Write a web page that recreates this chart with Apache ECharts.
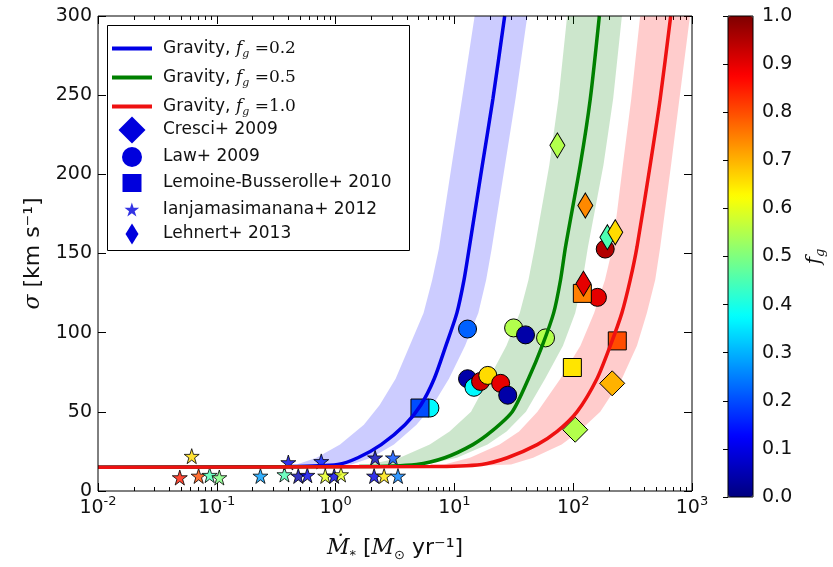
<!DOCTYPE html>
<html><head><meta charset="utf-8">
<script src="https://cdn.jsdelivr.net/npm/echarts@6/dist/echarts.min.js"></script>
<style>html,body{margin:0;padding:0;background:#fff}#c{width:833px;height:567px}</style>
</head><body><div id="c"></div>
<script>
// ---------------- data ----------------
const xTickValues = [0.01, 0.1, 1, 10, 100, 1000];
const xTickExponents = ['-2', '-1', '0', '1', '2', '3'];
const yTickValues = [0, 50, 100, 150, 200, 250, 300];
const cbTickValues = [0, 0.1, 0.2, 0.3, 0.4, 0.5, 0.6, 0.7, 0.8, 0.9, 1.0];

const gravityNames = ['Gravity, fg=0.2', 'Gravity, fg=0.5', 'Gravity, fg=1.0'];
const gravityFg = ['0.2', '0.5', '1.0'];

// model curves (Mdot, sigma)
const blueLineMdot  = [0.01, 0.4, 1.045, 1.54, 2.42, 3.84, 5.22, 6.76, 8.47, 10.5, 12.05, 13.3, 17.2, 21.1, 26.5];
const blueSigma     = [15, 15.5, 16.8, 21, 29.3, 41.8, 54.3, 70.9, 91.7, 112.5, 133.3, 153, 206, 247.7, 300];
const blueBandLoM   = [0.01, 0.18, 0.47, 0.69, 1.09, 1.73, 2.35, 3.2, 4.2, 5.5, 6.5, 7.4, 9.5, 11.6, 14.8];
const blueBandHiM   = [0.01, 0.52, 1.36, 2.0, 3.1, 4.8, 6.6, 9.0, 12.3, 15.9, 18.5, 20.6, 26.7, 32.7, 41.1];

const greenLineMdot = [0.01, 1.58, 4.8, 8.3, 14.3, 20.5, 30.7, 42, 54.8, 68.5, 78.2, 86.1, 114.8, 139.3, 166];
const greenSigma    = [15, 15.4, 16.8, 21, 29.3, 37.6, 50.1, 70.9, 91.7, 112.5, 133.3, 154, 206, 247.7, 300];
const greenBandLoM  = [0.01, 0.71, 1.94, 3.46, 6.2, 9.1, 13.8, 19.5, 27.4, 35.5, 42, 47.5, 63, 75.2, 88.9];
const greenBandHiM  = [0.01, 2.05, 5.8, 10.5, 19, 27.5, 40, 58, 82, 104, 120, 133, 180, 217, 257];

const redLineMdot   = [0.01, 6.3, 17, 27.9, 49.8, 73.3, 108, 158.5, 205, 257, 302, 344, 445, 540, 662];
const redSigma      = [15, 15.4, 16.8, 21, 29.3, 37.6, 50.1, 70.9, 91.7, 112.5, 133.3, 154, 206, 247.7, 300];
const redBandLoM    = [0.01, 2.9, 8.2, 13.5, 24, 35, 50, 78, 115, 150, 185, 215, 262, 308, 366];
const redBandHiM    = [0.01, 11, 30, 46, 80, 112, 169, 257, 344, 417, 490, 540, 667, 784, 962];

// observations: Mdot, sigma, f_g
const cresciMdot = [213, 104];
const cresciSigma = [68, 38.7];
const cresciFg = [0.7, 0.55];

const lawMdot  = [12.9, 6.22, 31.5, 39.7, 58.5, 12.9, 14.6, 16.6, 19.1, 24.5, 28.1, 160, 186];
const lawSigma = [102.3, 52.4, 103, 98.6, 96.7, 70.9, 65.5, 69.2, 73, 68, 60.5, 122.3, 152.8];
const lawFg    = [0.22, 0.37, 0.55, 0.04, 0.55, 0.04, 0.37, 0.92, 0.66, 0.9, 0.04, 0.9, 0.95];

const lemoineMdot  = [5.13, 98.4, 235, 119.4];
const lemoineSigma = [52.4, 78, 94.8, 124.8];
const lemoineFg    = [0.2, 0.65, 0.8, 0.75];

const ianjaMdot  = [0.0488, 0.0615, 0.0703, 0.0871, 0.105, 0.233, 0.371, 0.40, 0.485, 0.578, 0.757, 0.818, 0.973, 1.11, 2.15, 3.04, 2.11, 2.56, 3.35];
const ianjaSigma = [8.5, 22, 9.5, 10, 8.5, 9.5, 10.4, 18, 9.5, 10, 18.7, 9.5, 9.5, 10.4, 21, 21, 9.5, 9.5, 9.5];
const ianjaFg    = [0.85, 0.66, 0.8, 0.45, 0.5, 0.28, 0.45, 0.1, 0.05, 0.1, 0.15, 0.6, 0.1, 0.6, 0.05, 0.2, 0.1, 0.65, 0.25];

const lehnertMdot  = [73.6, 126.5, 194, 226, 122];
const lehnertSigma = [218.3, 180.3, 160.3, 163.4, 131];
const lehnertFg    = [0.55, 0.74, 0.45, 0.66, 0.9];

// ---------------- chart ----------------
const SANS = 'DejaVu Sans', SERIF = 'DejaVu Serif';
const jet = ['#00007f', '#0000ff', '#007fff', '#00ffff', '#7fff7f', '#ffff00', '#ff7f00', '#ff0000', '#7f0000'];
const zip = (a, b) => a.map((v, i) => [v, b[i]]);
const zip3 = (a, b, c) => a.map((v, i) => [v, b[i], c[i]]);

const xMinor = [];
for (let k = -2; k <= 2; k++) for (let m = 2; m <= 9; m++) xMinor.push(+(m * Math.pow(10, k)).toPrecision(3));

function bandSeries(loM, hiM, sig, color) {
  const poly = zip(loM, sig).concat(zip(hiM, sig).reverse());
  return {
    type: 'custom', xAxisIndex: 0, yAxisIndex: 0, z: 1, silent: true, clip: true,
    data: poly, encode: {x: 0, y: 1},
    renderItem: (params, api) => {
      if (params.dataIndex !== 0) return null;
      return {type: 'polygon', shape: {points: poly.map(p => api.coord(p))},
              style: {fill: color, stroke: null}};
    }
  };
}
function lineSeries(name, m, s, color) {
  return {type: 'line', name, data: zip(m, s), xAxisIndex: 0, yAxisIndex: 0, z: 6,
          symbol: 'none', smooth: 0.25, clip: true, silent: true,
          lineStyle: {width: 3.5, color}, itemStyle: {color}};
}
const STAR = 'path://M50,0 L61.2,34.5 L97.6,34.5 L68.2,55.9 L79.4,90.5 L50,69.1 L20.6,90.5 L31.8,55.9 L2.4,34.5 L38.8,34.5 Z';
const THIN = 'path://M6,0 L12,10 L6,20 L0,10 Z';
function scatterSeries(name, data, symbol, size, opacity) {
  return {type: 'scatter', name, data, xAxisIndex: 0, yAxisIndex: 0, z: 3, symbol, symbolSize: size,
          silent: true, itemStyle: {color: '#0000dd', borderColor: '#000', borderWidth: 1, opacity: opacity || 1}};
}

const series = [
  bandSeries(blueBandLoM, blueBandHiM, blueSigma, 'rgba(0,0,255,0.2)'),
  bandSeries(greenBandLoM, greenBandHiM, greenSigma, 'rgba(0,128,0,0.2)'),
  bandSeries(redBandLoM, redBandHiM, redSigma, 'rgba(255,0,0,0.2)'),
  scatterSeries('Law+ 2009', zip3(lawMdot, lawSigma, lawFg), 'circle', 18),
  scatterSeries('Cresci+ 2009', zip3(cresciMdot, cresciSigma, cresciFg), 'diamond', 25),
  scatterSeries('Lemoine-Busserolle+ 2010', zip3(lemoineMdot, lemoineSigma, lemoineFg), 'rect', 18),
  scatterSeries('Ianjamasimanana+ 2012', zip3(ianjaMdot, ianjaSigma, ianjaFg), STAR, 15, 0.8),
  scatterSeries('Lehnert+ 2013', zip3(lehnertMdot, lehnertSigma, lehnertFg), THIN, [15, 25]),
  lineSeries(gravityNames[0], blueLineMdot, blueSigma, '#0000e6'),
  lineSeries(gravityNames[1], greenLineMdot, greenSigma, '#008000'),
  lineSeries(gravityNames[2], redLineMdot, redSigma, '#ee1111')
];

// legend entries: name, icon, icon width/height
const legendItems = [
  {name: gravityNames[0], icon: 'rect', w: 40, h: 4},
  {name: gravityNames[1], icon: 'rect', w: 40, h: 4},
  {name: gravityNames[2], icon: 'rect', w: 40, h: 4},
  {name: 'Cresci+ 2009', icon: 'diamond', w: 27, h: 27},
  {name: 'Law+ 2009', icon: 'circle', w: 20, h: 20},
  {name: 'Lemoine-Busserolle+ 2010', icon: 'rect', w: 19, h: 18},
  {name: 'Ianjamasimanana+ 2012', icon: STAR, w: 15, h: 14},
  {name: 'Lehnert+ 2013', icon: 'diamond', w: 13, h: 21}
];
const legendCenters = [42, 71, 100, 130, 157, 183, 208, 234];
const legendRich = {
  it: {fontFamily: SERIF, fontStyle: 'italic', fontSize: 17, color: '#111', lineHeight: 22},
  sub: {fontFamily: SERIF, fontStyle: 'italic', fontSize: 11, color: '#111', lineHeight: 11, verticalAlign: 'bottom'},
  m: {fontFamily: SERIF, fontSize: 17, color: '#111', lineHeight: 22},
  t: {fontFamily: SANS, fontSize: 17, color: '#111', lineHeight: 22}
};
const LEG_ICON_CX = 132, LEG_TEXT_X = 163;
const legends = legendItems.map((it, i) => {
  const left = it.w === 40 ? 112 : LEG_ICON_CX - it.w / 2;
  return {
    data: [{name: it.name, icon: it.icon}], orient: 'vertical', left, top: legendCenters[i] - it.h / 2,
    itemWidth: it.w, itemHeight: it.h, padding: 0, selectedMode: false, z: 6,
    itemStyle: {borderWidth: 0},
    textStyle: {fontFamily: SANS, fontSize: 17, color: '#111',
                padding: [0, 0, 0, LEG_TEXT_X - (left + it.w + 5)], rich: legendRich},
    formatter: n => {
      const gi = gravityNames.indexOf(n);
      if (gi >= 0) return '{t|Gravity, }{it|f}{sub|g}{m| =' + gravityFg[gi] + '}';
      return '{t|' + n + '}';
    }
  };
});

const tickLab = {fontFamily: SANS, fontSize: 19, color: '#111'};
const supRich = {
  b: {fontFamily: SANS, fontSize: 19, color: '#111', lineHeight: 26},
  s: {fontFamily: SANS, fontSize: 13, color: '#111', lineHeight: 13, verticalAlign: 'top'}
};
const option = {
  animation: false,
  backgroundColor: '#fff',
  grid: [
    {left: 98, top: 16, width: 594, height: 481, show: true, borderColor: '#000', borderWidth: 1, backgroundColor: 'transparent', z: 8},
    {left: 728, top: 16, width: 25, height: 481, show: true, borderColor: '#000', borderWidth: 1, backgroundColor: 'transparent', z: 10}
  ],
  xAxis: [
    {type: 'log', logBase: 10, gridIndex: 0, min: xTickValues[0], max: xTickValues[xTickValues.length - 1], position: 'bottom',
     axisLine: {show: false}, splitLine: {show: false},
     axisTick: {inside: true, length: 8, lineStyle: {color: '#000'}},
     axisLabel: {margin: 4, rich: supRich,
                 formatter: v => '{b|10}{s|' + xTickExponents[Math.round(Math.log10(v)) + 2] + '}'},
     name: '{it|\u1E40}{sub|*} [{it|M}{sub|\u2299} yr\u207B\u00B9]', nameLocation: 'middle', nameGap: 43,
     nameTextStyle: {fontFamily: SANS, fontSize: 22, color: '#111',
       rich: {it: {fontFamily: SERIF, fontStyle: 'italic', fontSize: 22, color: '#111', lineHeight: 28},
              sub: {fontFamily: SANS, fontSize: 13, color: '#111', lineHeight: 13, verticalAlign: 'bottom'}}}},
    {type: 'log', logBase: 10, gridIndex: 0, min: 0.01, max: 1000, position: 'bottom',
     axisLine: {show: false}, splitLine: {show: false}, axisLabel: {show: false},
     axisTick: {inside: true, length: 4, customValues: xMinor, lineStyle: {color: '#000'}}},
    {type: 'log', logBase: 10, gridIndex: 0, min: 0.01, max: 1000, position: 'top',
     axisLine: {show: false}, splitLine: {show: false}, axisLabel: {show: false},
     axisTick: {inside: true, length: 8, lineStyle: {color: '#000'}}},
    {type: 'log', logBase: 10, gridIndex: 0, min: 0.01, max: 1000, position: 'top',
     axisLine: {show: false}, splitLine: {show: false}, axisLabel: {show: false},
     axisTick: {inside: true, length: 4, customValues: xMinor, lineStyle: {color: '#000'}}},
    {type: 'value', gridIndex: 1, min: 0, max: 1, show: false}
  ],
  yAxis: [
    {type: 'value', gridIndex: 0, min: yTickValues[0], max: yTickValues[yTickValues.length - 1], interval: 50, position: 'left',
     axisLine: {show: false}, splitLine: {show: false},
     axisTick: {inside: true, length: 8, lineStyle: {color: '#000'}},
     axisLabel: {...tickLab, margin: 6},
     name: '{it|\u03C3} [km s\u207B\u00B9]', nameLocation: 'middle', nameGap: 54, nameRotate: 90,
     nameTextStyle: {fontFamily: SANS, fontSize: 22, color: '#111',
       rich: {it: {fontFamily: SERIF, fontStyle: 'italic', fontSize: 22, color: '#111'}}}},
    {type: 'value', gridIndex: 0, min: 0, max: 300, interval: 50, position: 'right',
     axisLine: {show: false}, splitLine: {show: false}, axisLabel: {show: false},
     axisTick: {inside: true, length: 8, lineStyle: {color: '#000'}}},
    {type: 'value', gridIndex: 1, min: cbTickValues[0], max: cbTickValues[cbTickValues.length - 1], interval: 0.1, position: 'right',
     axisLine: {show: false}, splitLine: {show: false},
     axisTick: {inside: true, length: 5, lineStyle: {color: '#000'}},
     axisLabel: {...tickLab, margin: 9, formatter: v => v.toFixed(1)},
     name: '{it|f}{sub|g}', nameLocation: 'middle', nameGap: 50, nameRotate: 90,
     nameTextStyle: {rich: {it: {fontFamily: SERIF, fontStyle: 'italic', fontSize: 20, color: '#111', lineHeight: 24},
                            sub: {fontFamily: SERIF, fontStyle: 'italic', fontSize: 13, color: '#111', lineHeight: 13, verticalAlign: 'bottom'}}}}
  ],
  visualMap: {
    type: 'continuous', min: 0, max: 1, dimension: 2, seriesIndex: [3, 4, 5, 6, 7],
    inRange: {color: jet}, left: 728, top: 16, itemWidth: 25, itemHeight: 481,
    calculable: false, text: null, padding: 0, orient: 'vertical', hoverLink: false
  },
  legend: legends,
  graphic: [{type: 'rect', left: 107, top: 25, z: 5, shape: {width: 302, height: 225},
             style: {fill: '#fff', stroke: '#000', lineWidth: 1}}],
  series
};
const chart = echarts.init(document.getElementById('c'));
chart.setOption(option);
</script></body></html>
